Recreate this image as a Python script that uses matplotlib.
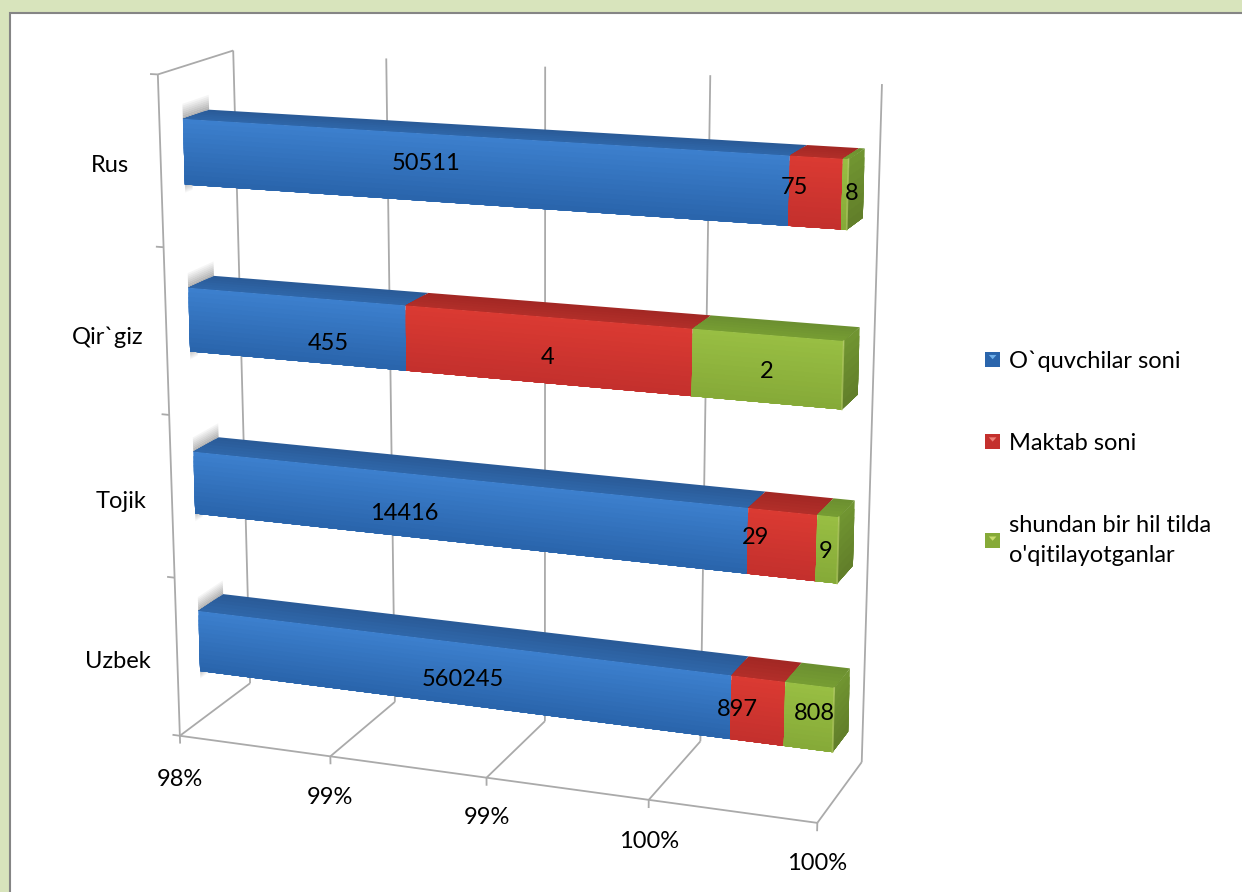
import numpy as np
import matplotlib
matplotlib.use("Agg")
import matplotlib.pyplot as plt
from matplotlib.colors import to_rgb
from matplotlib.legend_handler import HandlerBase
from matplotlib.patches import Patch, Polygon, Rectangle
from matplotlib.transforms import Transform

plt.rcParams['font.family'] = ['Lato', 'DejaVu Sans']

# ---- data ----
categories = ['Uzbek', 'Tojik', 'Qir`giz', 'Rus']
series_names = ['O`quvchilar soni', 'Maktab soni', "shundan bir hil tilda\no'qitilayotganlar"]
oquvchilar = [560245, 14416, 455, 50511]
maktab = [897, 29, 4, 75]
bir_hil = [808, 9, 2, 8]
x_ticks = [98.0, 98.5, 99.0, 99.5, 100.0]
x_tick_labels = ['98%', '99%', '99%', '100%', '100%']

# ---- layout ----
W, H = 1242, 892
XMIN, XMAX = 98.0, 100.0
NCAT = len(categories)
Z0, Z1 = 0.30, 0.65
BAR_H = 0.385
BAR_SHIFT = 0.006
FS = 17.0
TEXT_DY = 2
# front face / top / side gradient colours per series
STYLE = [
    dict(f0='#3c7fcd', f1='#2a65ac', t0='#2a5b98', t1='#2f66a8', s0='#2a5b98', s1='#234f88'),
    dict(f0='#da3a32', f1='#c4302d', t0='#a32824', t1='#b12e29', s0='#a32824', s1='#8f2320'),
    dict(f0='#98be43', f1='#86aa38', t0='#6c9030', t1='#769c33', s0='#709431', s1='#627f2a'),
]
LABEL_POS = [  # pixel centres of data labels, row per category, column per series
    [(463, 677), (737, 708), (814, 711)],
    [(404, 512), (756, 536), (826, 550)],
    [(328, 342), (548, 356), (767, 370)],
    [(426, 162), (794, 186), (852, 191)],
]
CAT_LABEL_POS = [(118, 660), (121, 499), (108, 335), (110, 164)]
TICK_LABEL_POS = [(180, 778), (330, 795), (487, 815), (649, 839), (817, 862)]

# Calibration of the chart box: (u, v, w) in 0..1 -> pixel
BOX = [((0, 0, 0), (180, 737)), ((1, 0, 0), (817, 822)), ((1, 0, 1), (862, 763)),
       ((0, 0, 1), (250, 682)), ((0, 1, 0), (158, 74)), ((0, 1, 1), (233, 51)),
       ((1, 1, 1), (882, 84))]
A, b = [], []
for (u, v, w), (px, py) in BOX:
    A.append([u, v, w, 1, 0, 0, 0, 0, -px*u, -px*v, -px*w]); b.append(px)
    A.append([0, 0, 0, 0, u, v, w, 1, -py*u, -py*v, -py*w]); b.append(py)
P = np.append(np.linalg.lstsq(np.array(A, float), np.array(b, float), rcond=None)[0], 1).reshape(3, 4)


class BoxPlane(Transform):
    """Maps two of (percent, category position, depth) to pixels, the third being fixed."""
    input_dims = output_dims = 2
    is_separable = False
    has_inverse = False

    def __init__(self, axes_pair, fixed):
        super().__init__()
        self.pair, self.fixed = axes_pair, fixed

    def transform_non_affine(self, values):
        values = np.asarray(values, float)
        c = {self.pair[0]: values[:, 0], self.pair[1]: values[:, 1]}
        other = ({'x', 'y', 'z'} - set(self.pair)).pop()
        c[other] = np.full(len(values), self.fixed)
        q = np.column_stack([(c['x'] - XMIN) / (XMAX - XMIN), c['y'] / NCAT, c['z'], np.ones(len(values))])
        r = q @ P.T
        return r[:, :2] / r[:, 2:3]


fig = plt.figure(figsize=(W / 100, H / 100), dpi=100, facecolor='#d8e4bc')
ax = fig.add_axes([0, 0, 1, 1])
ax.set_xlim(0, W)
ax.set_ylim(H, 0)
ax.axis('off')
ax.set_autoscale_on(False)
ax.add_patch(Rectangle((10, 13), W, H, facecolor='white', edgecolor='#858585', linewidth=1.5))
td = ax.transData


def on(pair, fixed):
    return BoxPlane(pair, fixed) + td


def mix(c0, c1, t):
    return tuple((1 - t) * np.array(to_rgb(c0)) + t * np.array(to_rgb(c1)))


def face(T, a0, a1, b0, b1, c0, c1, n=14, zorder=3):
    # painted from b0 onwards, each band overlapping the rest, so no seams show
    edges = np.linspace(b0, b1, n + 1)
    for i in range(n):
        col = mix(c0, c1, i / (n - 1))
        ax.fill([a0, a1, a1, a0], [edges[i], edges[i], b1, b1],
                transform=T, facecolor=col, edgecolor='none', linewidth=0, zorder=zorder)


# ---- walls, grid, ticks ----
GRID = dict(color='#aaaaaa', linewidth=1.3, solid_capstyle='butt', zorder=1)
for t in x_ticks:
    ax.plot([t, t], [0, NCAT], transform=on('xy', 1), **GRID)
    ax.plot([t, t], [0, 1], transform=on('xz', 0), **GRID)
    ax.plot([t, t], [0, -0.05], transform=on('xy', 0), **GRID)
ax.plot([XMIN, XMAX], [0, 0], transform=on('xy', 0), **GRID)
ax.plot([XMIN, XMIN], [0, NCAT], transform=on('xy', 0), **GRID)
ax.plot([0, 1], [NCAT, NCAT], transform=on('zy', XMIN), **GRID)
for k in range(NCAT + 1):
    ax.plot([XMIN, XMIN - 0.025], [k, k], transform=on('xy', 0), **GRID)

# ---- bars ----
table = np.array([oquvchilar, maktab, bir_hil], float)
share = table / table.sum(axis=0) * 100
cum = np.cumsum(share, axis=0)
for i in range(NCAT):
    y0, y1 = i + 0.5 + BAR_SHIFT - BAR_H / 2, i + 0.5 + BAR_SHIFT + BAR_H / 2
    # soft shadow at the bar's left end
    for k in range(8):
        a = 0.5 * (1 - k / 8)
        ax.fill([Z0, Z1, Z1, Z0], [y1 + k * 0.011, y1 + k * 0.011, y1 + (k + 1) * 0.011, y1 + (k + 1) * 0.011],
                transform=on('zy', XMIN), facecolor='#666666', alpha=a, linewidth=0, zorder=2)
        ax.fill([Z0, Z0 + 0.1, Z0 + 0.1, Z0], [y0 - k * 0.006, y0 - k * 0.006, y0 - (k + 1) * 0.006, y0 - (k + 1) * 0.006],
                transform=on('zy', XMIN), facecolor='#666666', alpha=a * 0.8, linewidth=0, zorder=2)
    left = XMIN
    for s in range(3):
        right = min(cum[s, i], XMAX)
        st = STYLE[s]
        face(on('xz', y1), left, right, Z1, Z0, st['t0'], st['t1'], n=6)
        face(on('xy', Z0), left, right, y1, y0, st['f0'], st['f1'])
        if s == 2:
            face(on('zy', right), Z0, Z1, y1, y0, st['s0'], st['s1'], n=8)
            ax.plot([right, right], [y0, y1], transform=on('xy', Z0), color='#b5cc66',
                    linewidth=1.2, alpha=0.7, zorder=4)
        left = right

# ---- text ----
for row, vals in zip(LABEL_POS, table.T):
    for (px, py), val in zip(row, vals):
        ax.text(px, py + TEXT_DY, f'{val:.0f}', ha='center', va='center', fontsize=FS, color='black', zorder=6)
for (px, py), name in zip(CAT_LABEL_POS, categories):
    ax.text(px, py + TEXT_DY, name, ha='center', va='center', fontsize=FS, color='black')
for (px, py), name in zip(TICK_LABEL_POS, x_tick_labels):
    ax.text(px, py + TEXT_DY, name, ha='center', va='center', fontsize=FS, color='black')


# ---- legend ----
class Swatch(HandlerBase):
    def create_artists(self, legend, orig, xd, yd, width, height, fontsize, trans):
        s = 11
        y = -yd + (height - s) / 2
        if height > 30:
            y = -yd + height - s - 5
        base = Rectangle((-xd, y), s, s, facecolor=orig.get_facecolor(), edgecolor='none', transform=trans)
        tip = Polygon([(-xd + s * .25, y + s * .78), (-xd + s * .75, y + s * .78), (-xd + s * .5, y + s * .5)],
                      facecolor=orig.get_edgecolor(), edgecolor='none', transform=trans)
        return [base, tip]


swatches = [('#2a65ac', '#6fb0ea'), ('#c4302d', '#ee8078'), ('#86aa38', '#c9dc6e')]
handles = [Patch(facecolor=f, edgecolor=e) for f, e in swatches]
leg = ax.legend(handles, series_names, handler_map={Patch: Swatch()}, frameon=False, fontsize=FS,
                loc='upper left', bbox_to_anchor=(985 / W, 1 - 350 / H), bbox_transform=fig.transFigure,
                labelspacing=2.6, handlelength=0.85, handletextpad=0.18, borderpad=0, borderaxespad=0,
                alignment='left')
for t in leg.get_texts():
    t.set_linespacing(1.5)

fig.savefig('out.png', dpi=100, facecolor=fig.get_facecolor())
